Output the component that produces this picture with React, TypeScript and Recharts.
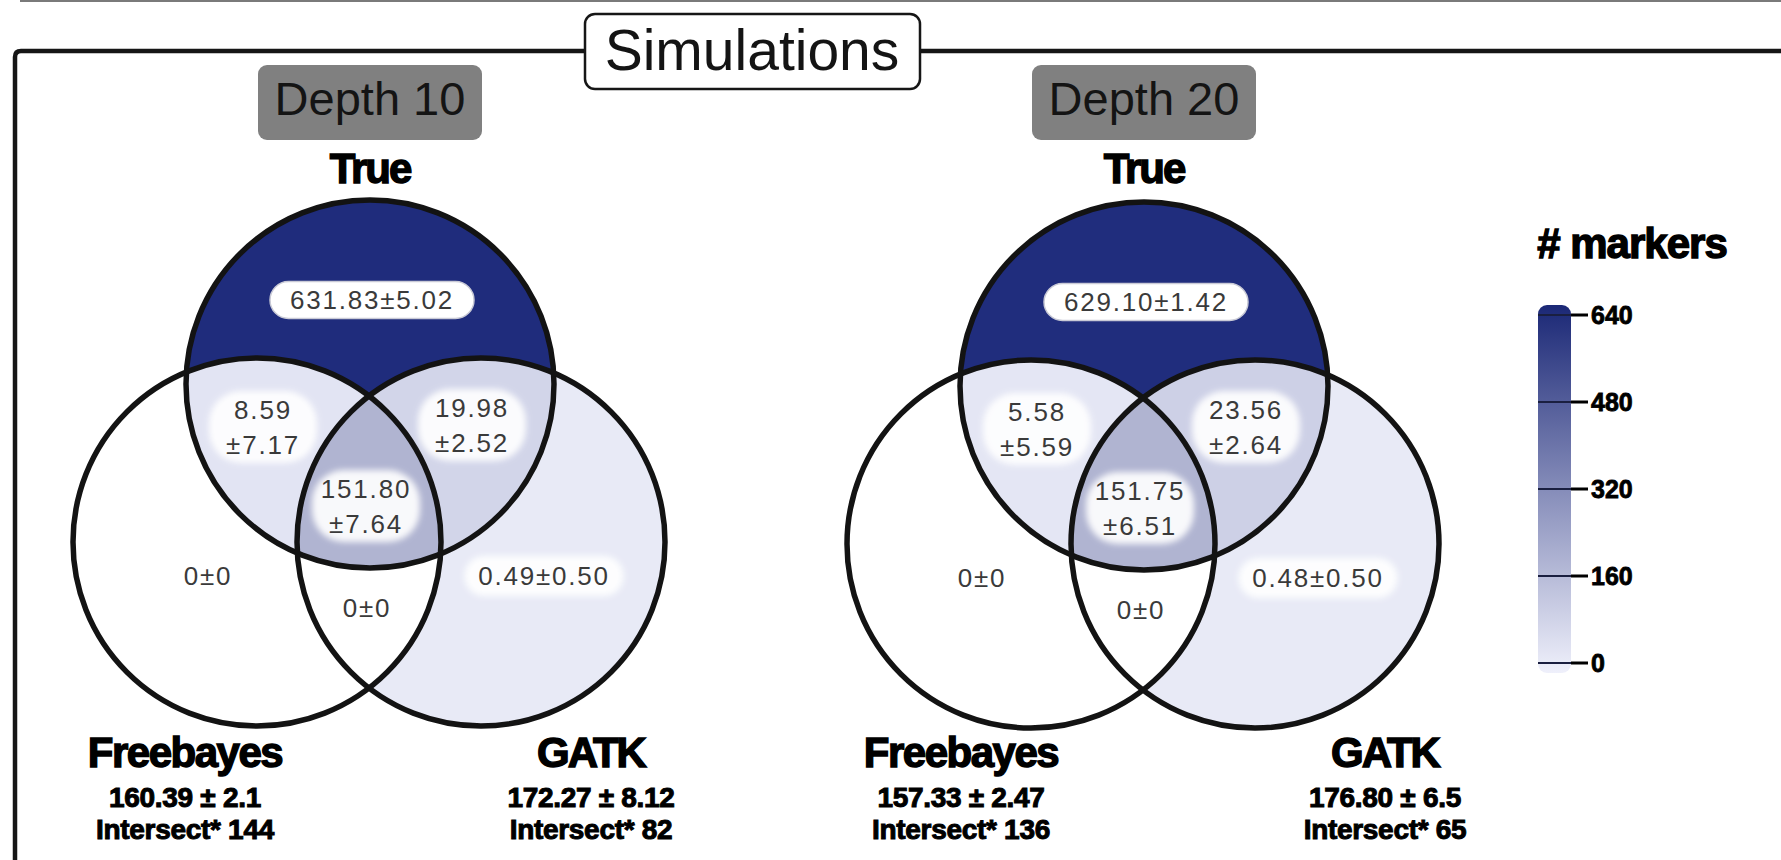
import React from 'react';
import { ScatterChart, Scatter, XAxis, YAxis, BarChart, Bar, ReferenceLine } from 'recharts';

const W = 1781;
const H = 860;

// ---------------- data ----------------
const panelNames = ['Depth 10', 'Depth 20'];
const setNames = ['True', 'Freebayes', 'GATK'];
// region membership keys (T = True, F = Freebayes, G = GATK)
const regionKeys = ['T', 'F', 'G', 'TF', 'TG', 'FG', 'TFG'];
const depth10Means = [631.83, 0, 0.49, 8.59, 19.98, 0, 151.8];
const depth10Sds = [5.02, 0, 0.5, 7.17, 2.52, 0, 7.64];
const depth20Means = [629.1, 0, 0.48, 5.58, 23.56, 0, 151.75];
const depth20Sds = [1.42, 0, 0.5, 5.59, 2.64, 0, 6.51];
const freebayesMeans = [160.39, 157.33];
const freebayesSds = [2.1, 2.47];
const gatkMeans = [172.27, 176.8];
const gatkSds = [8.12, 6.5];
const freebayesIntersect = [144, 136];
const gatkIntersect = [82, 65];
const legendTicks = [0, 160, 320, 480, 640];
const legendMax = 640;

// ---------------- layout / style ----------------
const FONT = "'Liberation Sans', Arial, Helvetica, sans-serif";
const R = 184;
const PANEL_ANCHOR: [number, number][] = [[370, 384], [1144, 386]];
const SET_OFFSET: [number, number][] = [[0, 0], [-113, 158], [111, 158]];
const REGION_OFFSET: Record<string, [number, number]> = {
  T: [2, -84],
  F: [-162, 192],
  G: [174, 192],
  TF: [-107, 43],
  TG: [102, 41],
  FG: [-3, 224],
  TFG: [-4, 122],
};
const SET_LABEL_OFFSET: [number, number][][] = [
  [[0, -201], [-185, 383], [221, 383]],
  [[0, -203], [-183, 381], [241, 381]],
];
const HEADER_CENTER_Y = 102.5;

const COLOR_STOPS: [number, string][] = [
  [0, '#e8eaf6'],
  [10, '#e1e3f2'],
  [25, '#cbcee5'],
  [152, '#b0b4d1'],
  [640, '#1d2a7b'],
];

function hexToRgb(h: string) {
  const n = parseInt(h.slice(1), 16);
  return [(n >> 16) & 255, (n >> 8) & 255, n & 255];
}
function colorFor(v: number) {
  if (v <= 0) return '#ffffff';
  for (let i = 1; i < COLOR_STOPS.length; i++) {
    const [v0, c0] = COLOR_STOPS[i - 1];
    const [v1, c1] = COLOR_STOPS[i];
    if (v <= v1 || i === COLOR_STOPS.length - 1) {
      const t = Math.max(0, Math.min(1, (v - v0) / (v1 - v0)));
      const a = hexToRgb(c0);
      const b = hexToRgb(c1);
      const m = a.map((x, k) => Math.round(x + (b[k] - x) * t));
      return `rgb(${m[0]},${m[1]},${m[2]})`;
    }
  }
  return '#ffffff';
}

// ---------------- derived point tables ----------------
const means = [depth10Means, depth20Means];
const sds = [depth10Sds, depth20Sds];

type RegionPoint = { x: number; y: number; panel: number; key: string; mean: number; sd: number };
const regionPoints: RegionPoint[] = [];
panelNames.forEach((_, p) => {
  regionKeys.forEach((key, i) => {
    const [ax, ay] = PANEL_ANCHOR[p];
    const [dx, dy] = REGION_OFFSET[key];
    regionPoints.push({ x: ax + dx, y: ay + dy, panel: p, key, mean: means[p][i], sd: sds[p][i] });
  });
});
// painter order: single sets, then pairs, then the triple
const fillPoints = [...regionPoints].sort((a, b) => a.key.length - b.key.length);

const circlePoints: { x: number; y: number; panel: number; set: number }[] = [];
panelNames.forEach((_, p) => {
  setNames.forEach((__, s) => {
    const [ax, ay] = PANEL_ANCHOR[p];
    circlePoints.push({ x: ax + SET_OFFSET[s][0], y: ay + SET_OFFSET[s][1], panel: p, set: s });
  });
});

const setLabelPoints: { x: number; y: number; name: string; lines: string[] }[] = [];
panelNames.forEach((_, p) => {
  setNames.forEach((name, s) => {
    const [ax, ay] = PANEL_ANCHOR[p];
    const [dx, dy] = SET_LABEL_OFFSET[p][s];
    let lines: string[] = [];
    if (s === 1) lines = [`${freebayesMeans[p].toFixed(2)} ± ${freebayesSds[p]}`, `Intersect* ${freebayesIntersect[p]}`];
    if (s === 2) lines = [`${gatkMeans[p].toFixed(2)} ± ${gatkSds[p]}`, `Intersect* ${gatkIntersect[p]}`];
    setLabelPoints.push({ x: ax + dx, y: ay + dy, name, lines });
  });
});

const headerPoints = panelNames.map((name, p) => ({ x: PANEL_ANCHOR[p][0], y: HEADER_CENTER_Y, name }));

const legendData = [{ name: '# markers', value: legendMax }];

// ---------------- shapes ----------------
const setIndex = (ch: string) => 'TFG'.indexOf(ch);

const RegionFill = (props: any) => {
  const { cx, cy, payload } = props;
  const off = REGION_OFFSET[payload.key];
  const ax = cx - off[0];
  const ay = cy - off[1];
  const members = payload.key.split('').map(setIndex);
  const centers = SET_OFFSET.map(([dx, dy]) => [ax + dx, ay + dy]);
  const last = members[members.length - 1];
  const clips = members.slice(0, -1);
  const base = `rf-${payload.panel}-${payload.key}`;
  let node: React.ReactNode = (
    <circle cx={centers[last][0]} cy={centers[last][1]} r={R} fill={colorFor(payload.mean)} />
  );
  clips.forEach((s: number) => {
    node = <g clipPath={`url(#${base}-${s})`}>{node}</g>;
  });
  return (
    <g>
      <defs>
        {clips.map((s: number) => (
          <clipPath id={`${base}-${s}`} key={s}>
            <circle cx={centers[s][0]} cy={centers[s][1]} r={R} />
          </clipPath>
        ))}
      </defs>
      {node}
    </g>
  );
};

const CircleOutline = (props: any) => (
  <circle cx={props.cx} cy={props.cy} r={R} fill="none" stroke="#131313" strokeWidth={5.5} />
);

function fmtRegion(m: number, s: number, key: string) {
  if (m === 0 && s === 0) return ['0±0'];
  const a = m.toFixed(2);
  const b = s.toFixed(2);
  return key.length >= 2 ? [a, `±${b}`] : [`${a}±${b}`];
}

const RegionLabel = (props: any) => {
  const { cx, cy, payload } = props;
  const lines = fmtRegion(payload.mean, payload.sd, payload.key);
  const fid = `soft-${payload.panel}-${payload.key}`;
  const lineH = 35;
  let bubble: React.ReactNode;
  if (payload.key === 'T') {
    bubble = (
      <rect x={cx - 102} y={cy - 18.5} width={204} height={37} rx={18.5} fill="#ffffff" stroke="#c9cad6" strokeWidth={1.5} />
    );
  } else {
    const maxLen = Math.max(...lines.map((l) => l.length));
    const w = lines.length === 2 ? 108 : maxLen * 15 + 24;
    const h = lines.length === 2 ? 72 : 40;
    bubble = (
      <rect x={cx - w / 2} y={cy - h / 2} width={w} height={h} rx={lines.length === 2 ? 32 : 20} fill="#ffffff" opacity={0.92} filter={`url(#${fid})`} />
    );
  }
  return (
    <g>
      <defs>
        <filter id={fid} x="-30%" y="-30%" width="160%" height="160%">
          <feGaussianBlur stdDeviation={3} />
        </filter>
      </defs>
      {bubble}
      {lines.map((l, i) => (
        <text
          key={i}
          x={cx}
          y={cy + (i - (lines.length - 1) / 2) * lineH}
          textAnchor="middle"
          dominantBaseline="central"
          fontFamily={FONT}
          fontSize={26}
          letterSpacing={1.8}
          fill="#3a3a3a"
        >
          {l}
        </text>
      ))}
    </g>
  );
};

const SetLabel = (props: any) => {
  const { cx, cy, payload } = props;
  const isTrue = payload.lines.length === 0;
  return (
    <g>
      <text
        x={cx}
        y={cy}
        textAnchor="middle"
        fontFamily={FONT}
        fontWeight={700}
        fontSize={42}
        letterSpacing={isTrue ? -2 : payload.name === 'GATK' ? -2 : -1.5}
        fill="#000"
        stroke="#000"
        strokeWidth={1.4}
      >
        {payload.name}
      </text>
      {payload.lines.map((l: string, i: number) => (
        <text
          key={i}
          x={cx}
          y={cy + 40 + i * 32}
          textAnchor="middle"
          fontFamily={FONT}
          fontWeight={700}
          fontSize={28}
          letterSpacing={-0.3}
          fill="#000"
          stroke="#000"
          strokeWidth={1}
        >
          {l}
        </text>
      ))}
    </g>
  );
};

const PanelHeader = (props: any) => {
  const { cx, cy, payload } = props;
  return (
    <g>
      <rect x={cx - 112} y={cy - 37.5} width={224} height={75} rx={9} fill="#808080" />
      <text x={cx} y={cy + 12.5} textAnchor="middle" fontFamily={FONT} fontSize={47} fill="#141414">
        {payload.name}
      </text>
    </g>
  );
};

const ColorbarShape = (props: any) => {
  const { x, y, width, height } = props;
  return <rect x={x} y={y - 10} width={width} height={height + 20} rx={9} fill="url(#legendGrad)" />;
};

export default function App() {
  return (
    <div style={{ position: 'absolute', left: 0, top: 0, width: W, height: H, background: '#ffffff' }}>
      <div style={{ position: 'absolute', left: 0, top: 0 }}>
        <ScatterChart width={W} height={H} margin={{ top: 0, right: 0, bottom: 0, left: 0 }}>
          <XAxis type="number" dataKey="x" domain={[0, W]} hide allowDataOverflow />
          <YAxis type="number" dataKey="y" domain={[0, H]} reversed hide allowDataOverflow />
          <line x1={20} y1={1} x2={W} y2={1} stroke="#7a7a7a" strokeWidth={2} />
          <path d={`M15 ${H} L15 57 Q15 51 21 51 L${W} 51`} fill="none" stroke="#161616" strokeWidth={4.5} />
          <rect x={585} y={14} width={335} height={75} rx={10} fill="#ffffff" stroke="#161616" strokeWidth={2.5} />
          <text x={752} y={70} textAnchor="middle" fontFamily={FONT} fontSize={57} fill="#141414">
            Simulations
          </text>
          <text
            x={1632}
            y={258}
            textAnchor="middle"
            fontFamily={FONT}
            fontWeight={700}
            fontSize={42}
            letterSpacing={-1}
            fill="#000"
            stroke="#000"
            strokeWidth={1.4}
          >
            # markers
          </text>
          <Scatter data={headerPoints} shape={PanelHeader} isAnimationActive={false} />
          <Scatter data={fillPoints} shape={RegionFill} isAnimationActive={false} />
          <Scatter data={circlePoints} shape={CircleOutline} isAnimationActive={false} />
          <Scatter data={regionPoints} shape={RegionLabel} isAnimationActive={false} />
          <Scatter data={setLabelPoints} shape={SetLabel} isAnimationActive={false} />
        </ScatterChart>
      </div>
      <div style={{ position: 'absolute', left: 1500, top: 280 }}>
        <BarChart
          width={200}
          height={420}
          data={legendData}
          margin={{ top: 35, right: 59, bottom: 37, left: 38 }}
          barCategoryGap={0}
        >
          <defs>
            <linearGradient id="legendGrad" x1="0" y1="0" x2="0" y2="1">
              <stop offset="0%" stopColor="#1b2876" />
              <stop offset="50%" stopColor="#858cb9" />
              <stop offset="100%" stopColor="#eff0fb" />
            </linearGradient>
          </defs>
          <XAxis dataKey="name" hide />
          <YAxis
            orientation="right"
            type="number"
            domain={[0, legendMax]}
            ticks={legendTicks}
            interval={0}
            width={70}
            axisLine={false}
            tickLine={{ stroke: '#000', strokeWidth: 3 }}
            tickSize={17}
            tickMargin={3}
            tick={{ fontSize: 25, fontWeight: 700, fill: '#000', fontFamily: FONT, stroke: '#000', strokeWidth: 0.8 } as any}
          />
          <Bar dataKey="value" isAnimationActive={false} shape={ColorbarShape} />
          {legendTicks.map((t) => (
            <ReferenceLine key={t} y={t} stroke="#1a1f40" strokeWidth={2} ifOverflow="visible" />
          ))}
        </BarChart>
      </div>
    </div>
  );
}
